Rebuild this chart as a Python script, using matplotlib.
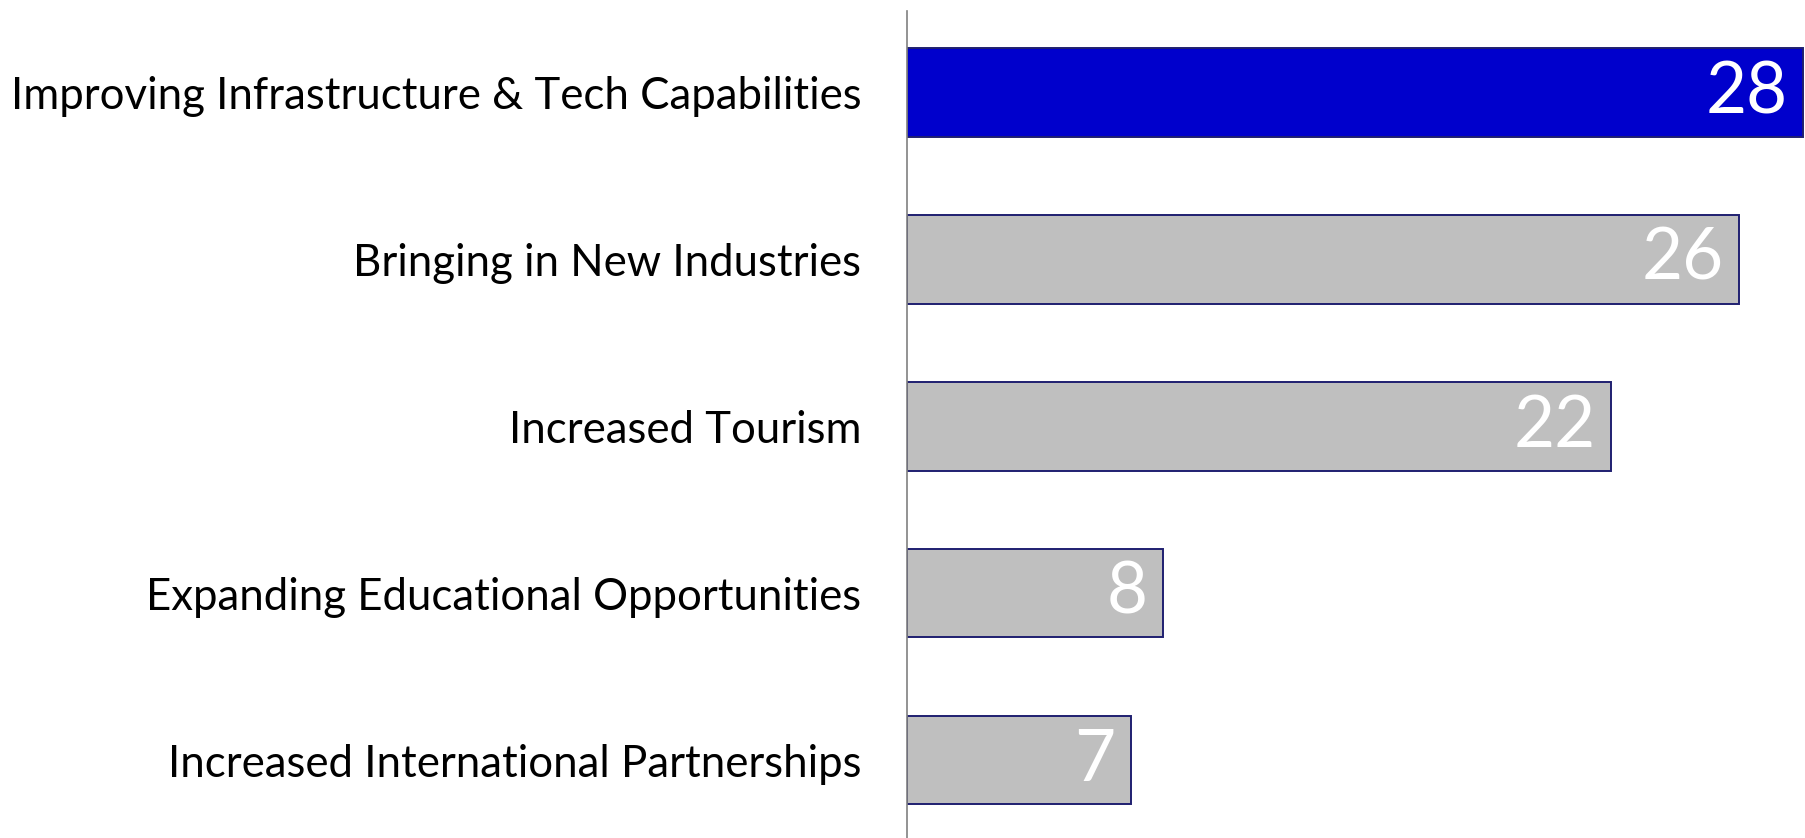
import matplotlib.pyplot as plt

# ─── Data ───
categories = [
    'Improving Infrastructure & Tech Capabilities',
    'Bringing in New Industries',
    'Increased Tourism',
    'Expanding Educational Opportunities',
    'Increased International Partnerships',
]
values = [28, 26, 22, 8, 7]
highlight = [True, False, False, False, False]

# ─── Colours ───
blue_fill = '#0000CC'
grey_fill = '#BFBFBF'
bar_edge = '#1F1F70'
axis_grey = '#808080'

plt.rcParams['font.family'] = ['Lato', 'DejaVu Sans']

fig = plt.figure(figsize=(18.05, 8.38), dpi=100)
fig.patch.set_facecolor('white')
ax = fig.add_axes([907 / 1805, 0.0, 1 - 907 / 1805, 1 - 11.5 / 838])

colors = [blue_fill if h else grey_fill for h in highlight]
ypos = list(range(len(categories)))
bars = ax.barh(ypos, values, height=0.53, color=colors,
               edgecolor=bar_edge, linewidth=1.4, zorder=2)

ax.set_xlim(0, 28.06)
ax.set_ylim(4.467, -0.486)

# value labels inside bar ends
for bar, v in zip(bars, values):
    ax.annotate(str(v), xy=(bar.get_width(), bar.get_y() + bar.get_height() / 2),
                xytext=(-11, 0), textcoords='offset points',
                ha='right', va='center', fontsize=51, color='white', zorder=3)

# category labels on the left
ax.set_yticks(ypos)
ax.set_yticklabels(categories, fontsize=31.5, color='black')
ax.tick_params(axis='y', length=0, pad=33)
ax.set_xticks([])

for side in ['top', 'right', 'bottom']:
    ax.spines[side].set_visible(False)
ax.spines['left'].set_color(axis_grey)
ax.spines['left'].set_linewidth(1.2)

fig.savefig('out.png', dpi=100, facecolor='white')
